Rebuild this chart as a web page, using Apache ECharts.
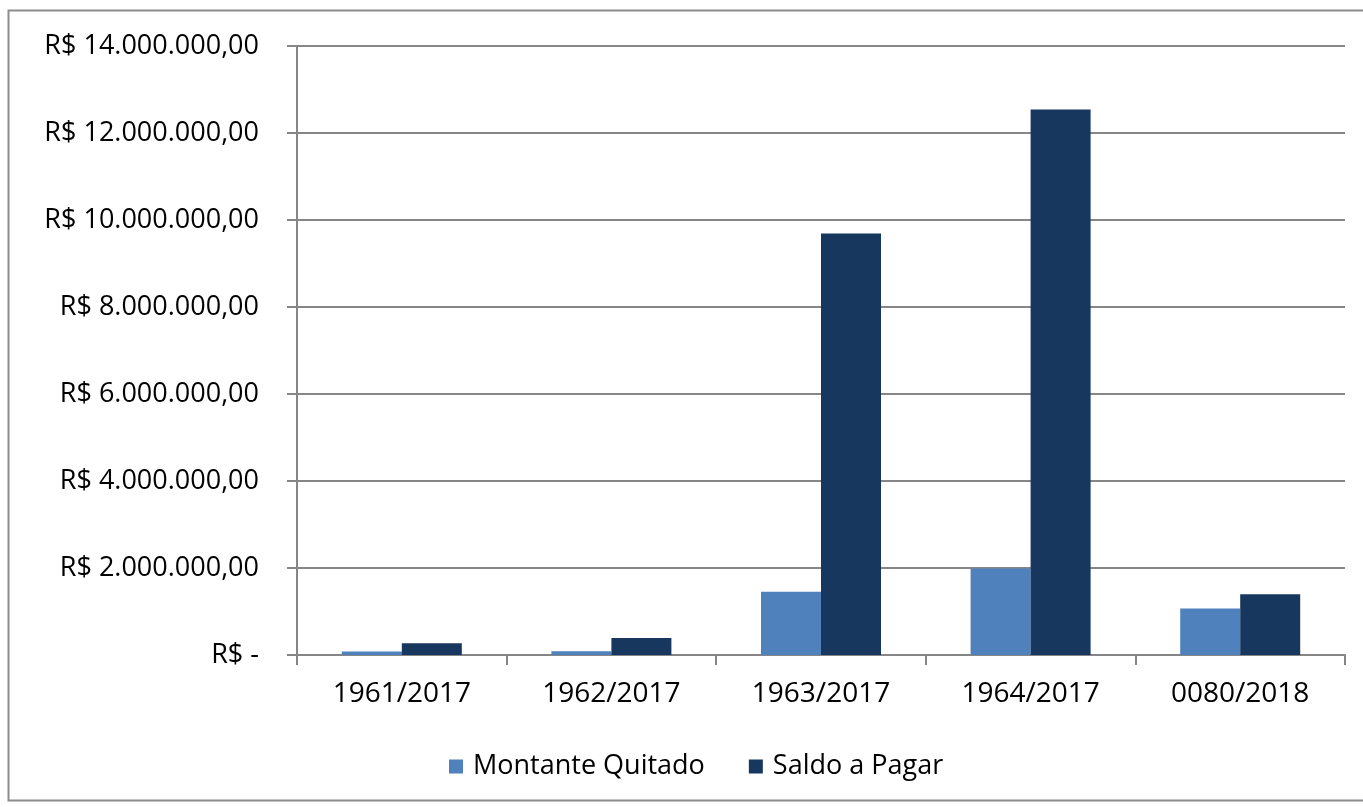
<!DOCTYPE html>
<html>
<head>
<meta charset="utf-8">
<script src="https://cdn.jsdelivr.net/npm/echarts@6/dist/echarts.min.js"></script>
<style>
html, body { margin: 0; padding: 0; background: #fff; }
#main { width: 1363px; height: 807px; }
</style>
</head>
<body>
<div id="main"></div>
<script>
// categorias e valores
var categorias = ['1961/2017', '1962/2017', '1963/2017', '1964/2017', '0080/2018'];
var montanteQuitado = [80000, 85000, 1455000, 1990000, 1070000];
var saldoPagar = [270000, 390000, 9690000, 12540000, 1395000];

var fonte = 'Open Sans';

function formatReal(v) {
	if (v == 0) return 'R$ -';
	var s = String(Math.round(v)).replace(/\B(?=(\d{3})+(?!\d))/g, '.');
	return 'R$ ' + s + ',00';
}

var myChart = echarts.init(document.getElementById('main'));

var option = {
	backgroundColor: '#fff',
	animation: false,
	graphic: [{
		type: 'rect',
		shape: { x: 8.5, y: 10.5, width: 1370, height: 790 },
		style: { fill: 'none', stroke: '#8c8c8c', lineWidth: 2 }
	}],
	grid: {
		left: 297,
		right: 18,
		top: 46,
		bottom: 152
	},
	legend: {
		left: 444,
		top: 748,
		itemWidth: 14,
		itemHeight: 14,
		itemGap: 44,
		icon: 'rect',
		textStyle: { fontFamily: fonte, fontSize: 27, color: '#000', padding: [0, 0, 0, 5] },
		data: ['Montante Quitado', 'Saldo a Pagar']
	},
	xAxis: {
		type: 'category',
		data: categorias,
		axisLine: { lineStyle: { color: '#868686', width: 2 } },
		axisTick: { show: true, length: 10, lineStyle: { color: '#868686', width: 2 } },
		axisLabel: { fontFamily: fonte, fontSize: 28, color: '#000', margin: 25 }
	},
	yAxis: {
		type: 'value',
		min: 0,
		max: 14000000,
		interval: 2000000,
		axisLine: { show: true, lineStyle: { color: '#868686', width: 2 } },
		axisTick: { show: true, length: 10, lineStyle: { color: '#868686', width: 2 } },
		splitLine: { lineStyle: { color: '#868686', width: 2 } },
		axisLabel: {
			fontFamily: fonte, fontSize: 27, color: '#000', margin: 38,
			formatter: formatReal
		}
	},
	series: [{
		name: 'Montante Quitado',
		type: 'bar',
		data: montanteQuitado,
		barWidth: 60,
		barGap: '0%',
		itemStyle: { color: '#4F81BD' }
	}, {
		name: 'Saldo a Pagar',
		type: 'bar',
		data: saldoPagar,
		barWidth: 60,
		itemStyle: { color: '#17375E' }
	}]
};

myChart.setOption(option);
</script>
</body>
</html>
